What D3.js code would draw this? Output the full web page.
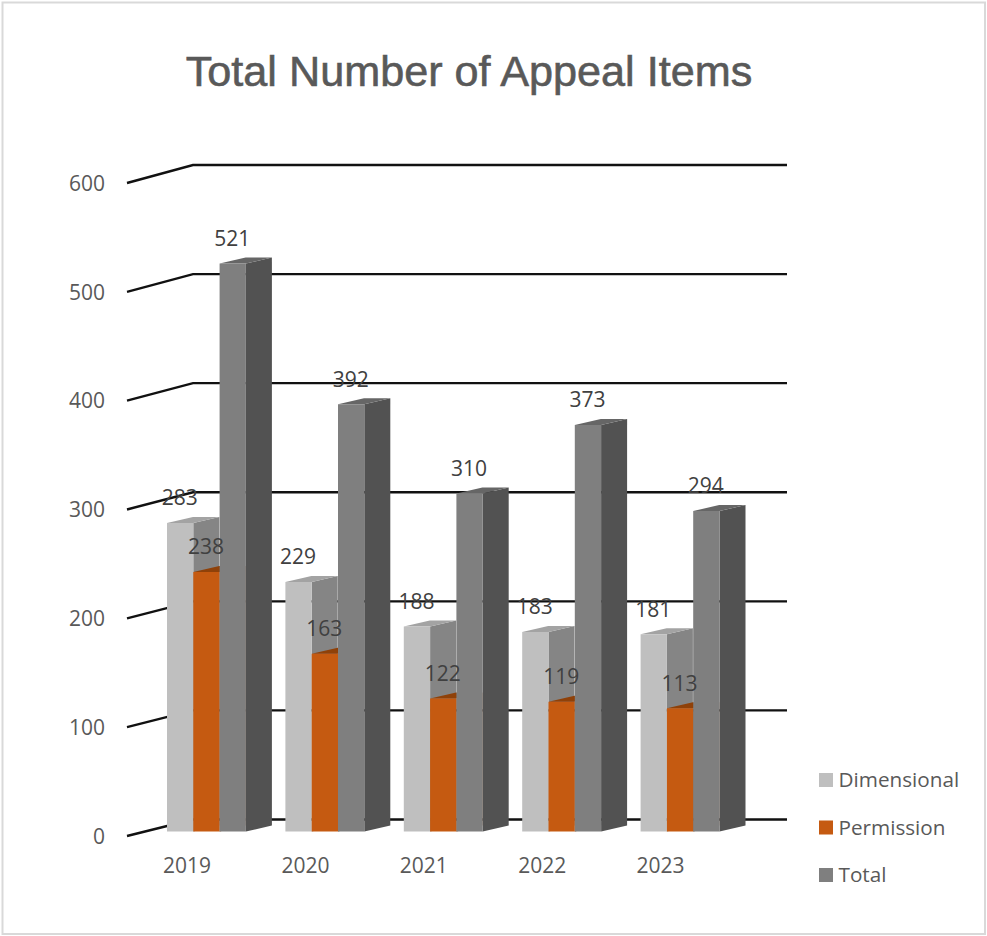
<!DOCTYPE html>
<html>
<head>
<meta charset="utf-8">
<title>Total Number of Appeal Items</title>
<script src="https://cdn.jsdelivr.net/npm/d3@7"></script>
<style>
  html, body { margin: 0; padding: 0; background: #fff; }
  svg { display: block; }
  text { font-family: "Open Sans", sans-serif; }
</style>
</head>
<body>
<script>
const years = ["2019", "2020", "2021", "2022", "2023"];
const dimensional = [283, 229, 188, 183, 181];
const permission = [238, 163, 122, 119, 113];
const total = [521, 392, 310, 373, 294];
const yTicks = [0, 100, 200, 300, 400, 500, 600];

const seriesNames = ["Dimensional", "Permission", "Total"];
const seriesValues = [dimensional, permission, total];
const faceColors = [
  { front: "#bfbfbf", top: "#a3a3a3", side: "#858585" },
  { front: "#c55a11", top: "#8f4109", side: "#8f4109" },
  { front: "#7f7f7f", top: "#666666", side: "#525252" }
];

const width = 987, height = 936;
const svg = d3.select("body").append("svg").attr("width", width).attr("height", height);

// Chart frame
svg.append("rect")
  .attr("x", 2.5).attr("y", 2.5).attr("width", 982.5).attr("height", 931.5)
  .attr("fill", "#fff").attr("stroke", "#d9d9d9").attr("stroke-width", 2);

// Title, thickened a little with a hairline stroke
svg.append("text")
  .attr("x", 469).attr("y", 85.5).attr("text-anchor", "middle")
  .style("font-family", "'Liberation Sans', Arial, sans-serif")
  .style("font-size", "43.2px").attr("fill", "#595959")
  .attr("stroke", "#595959").attr("stroke-width", 0.6)
  .text("Total Number of Appeal Items");

// The three depth planes of the 3D box: front edge of the floor, bar faces, back wall
const yFront = d3.scaleLinear().domain([0, 600]).range([836, 183]);
const yBar = d3.scaleLinear().domain([0, 600]).range([831.5, 177.5]);
const yBack = d3.scaleLinear().domain([0, 600]).range([819.5, 165]);
const wallFrontX = 127, wallBackX = 193, wallEndX = 787;

const grid = svg.append("g").attr("fill", "none").attr("stroke", "#111111").attr("stroke-width", 2.4);
grid.selectAll("path").data(yTicks).join("path")
  .attr("d", t => d3.line()([[wallFrontX, yFront(t)], [wallBackX, yBack(t)], [wallEndX, yBack(t)]]));

// Value axis labels sit on the front plane
const yAxis = svg.append("g")
  .attr("transform", `translate(105,0.5)`)
  .call(d3.axisLeft(yFront).tickValues(yTicks).tickSize(0).tickPadding(0).tickFormat(d3.format("d")));
yAxis.select(".domain").remove();
yAxis.selectAll("text")
  .style("font-family", "'Open Sans', sans-serif").style("font-size", "21px").attr("fill", "#595959");

// Clusters and the bars inside each of them
const x0 = d3.scaleBand().domain(years).range([167, 167 + 118.4 * years.length]).paddingInner(0).paddingOuter(0).align(0);
const barW = 26.3;
const x1 = d3.scaleBand().domain(seriesNames).range([0, barW * 3]);
const depthX = 26, depthY = 6;

const bars = svg.append("g");
seriesNames.forEach((name, s) => {
  const colors = faceColors[s];
  const layer = bars.append("g");
  years.forEach((year, i) => {
    const v = seriesValues[s][i];
    const xL = x0(year) + x1(name), xR = xL + barW;
    const yT = yBar(v), yB = yBar(0);
    const poly = pts => layer.append("polygon").attr("points", pts.map(p => p.join(",")).join(" "));
    poly([[xR, yT], [xR + depthX, yT - depthY], [xR + depthX, yB - depthY], [xR, yB]]).attr("fill", colors.side);
    poly([[xL, yT], [xR, yT], [xR + depthX, yT - depthY], [xL + depthX, yT - depthY]]).attr("fill", colors.top);
    poly([[xL, yT], [xR, yT], [xR, yB], [xL, yB]]).attr("fill", colors.front);
  });
});

// Value labels float above each bar's front face
const labels = svg.append("g").attr("text-anchor", "middle")
  .style("font-size", "21px").attr("fill", "#404040");
seriesNames.forEach((name, s) => {
  years.forEach((year, i) => {
    const v = seriesValues[s][i];
    labels.append("text")
      .attr("x", x0(year) + x1(name) + barW / 2 - 0.5)
      .attr("y", yBar(v) - 25)
      .attr("dy", "0.35em")
      .text(v);
  });
});

// Category labels
svg.append("g").attr("text-anchor", "middle").style("font-size", "21px").attr("fill", "#595959")
  .selectAll("text").data(years).join("text")
  .attr("x", d => x0(d) + 20).attr("y", 866).attr("dy", "0.35em").text(d => d);

// Legend
const legend = svg.append("g");
const legendY = d3.scalePoint().domain(seriesNames).range([780, 875]);
seriesNames.forEach((name, s) => {
  legend.append("rect").attr("x", 819).attr("y", legendY(name) - 7).attr("width", 14).attr("height", 14)
    .attr("fill", faceColors[s].front);
  legend.append("text").attr("x", 838.5).attr("y", legendY(name)).attr("dy", "0.35em")
    .style("font-size", "20.7px").attr("fill", "#595959").text(name);
});
</script>
</body>
</html>
